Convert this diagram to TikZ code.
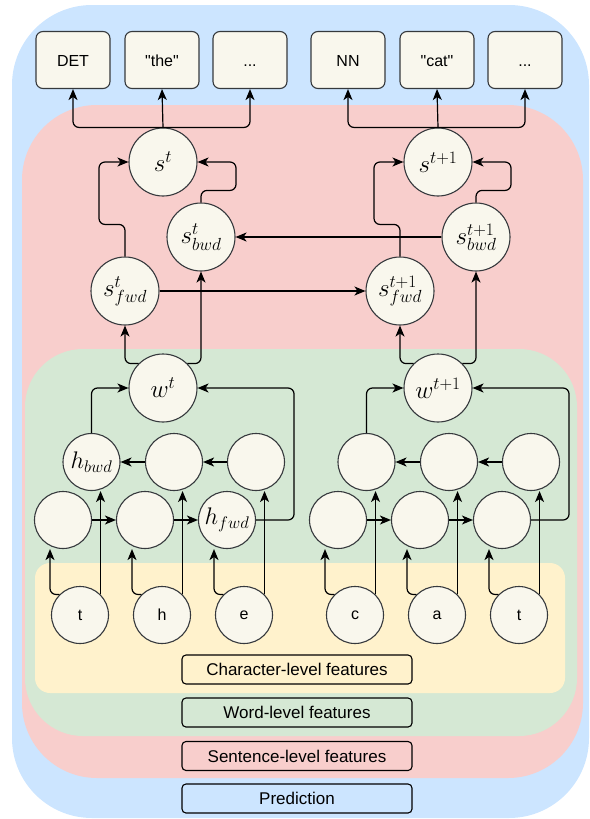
\RequirePackage{fix-cm}
\documentclass[tikz,border=0pt]{standalone}
\usepackage[no-math]{fontspec}
\setmainfont{Liberation Sans}[Ligatures = TeXOff]
\usetikzlibrary{calc,arrows.meta}

\definecolor{predblue}{HTML}{CCE5FF}
\definecolor{sentred}{HTML}{F8CECC}
\definecolor{wordgreen}{HTML}{D5E8D4}
\definecolor{charyellow}{HTML}{FFF2CC}
\definecolor{cellfill}{HTML}{F9F7ED}
\definecolor{cellline}{HTML}{36393D}

\tikzset{
  cell/.style = {circle, draw = cellline, fill = cellfill, line width = 1.1pt,
    minimum size = 57pt, inner sep = 0pt, font = \fontsize{16}{19}\selectfont},
  hcell/.style = {cell, font = \fontsize{24}{27}\selectfont},
  bigcell/.style = {cell, minimum size = 68pt, font = \fontsize{25}{28}\selectfont},
  outbox/.style = {draw = cellline, fill = cellfill, rounded corners = 7pt, line width = 1.1pt,
    minimum width = 74pt, minimum height = 57pt, text height = 13pt, text depth = 0pt,
    font = \fontsize{16}{19}\selectfont},
  levelbox/.style = {draw = black, rounded corners = 4pt, line width = 1.1pt,
    minimum width = 230pt, minimum height = 29pt, font = \fontsize{17}{20}\selectfont},
  link/.style = {-{Stealth[length = 11pt, width = 9pt, inset = 3pt]}, line width = 1.2pt,
    rounded corners = 6pt},
}

\begin{document}
\begin{tikzpicture}[x = 1pt, y = -1pt]
  \useasboundingbox (0,0) rectangle (589,819);

  \fill [predblue, rounded corners = 80pt] (12,5) rectangle (589,818);
  \fill [sentred, rounded corners = 75pt] (22,105) rectangle (583,778);
  \fill [wordgreen, rounded corners = 58pt] (25,349) rectangle (577,736);
  \fill [charyellow, rounded corners = 15pt] (35,563) rectangle (565,693);

  \node [levelbox, fill = charyellow] (charlevel) at (297,669.5) {Character-level features};
  \node [levelbox, fill = wordgreen] (wordlevel) at (297,712.5) {Word-level features};
  \node [levelbox, fill = sentred] (sentlevel) at (297,756) {Sentence-level features};
  \node [levelbox, fill = predblue] (predlevel) at (297,798.5) {Prediction};

  \foreach \n/\dx/\tsup/\ca/\cb/\cc/\hb/\hf/\oa/\ob in
    {a/0/t/t/h/e/$h_{bwd}$/$h_{fwd}$/DET/"the",
     b/275/t+1/c/a/t/{}/{}/NN/"cat"} {

    \node [cell] (ch1_\n) at ({\dx+80},615) {\ca};
    \node [cell] (ch2_\n) at ({\dx+162},615) {\cb};
    \node [cell] (ch3_\n) at ({\dx+244},615) {\cc};

    \node [cell] (f1_\n) at ({\dx+63},520) {};
    \node [cell] (f2_\n) at ({\dx+145},520) {};
    \node [hcell] (f3_\n) at ({\dx+227},520) {\hf};

    \node [hcell] (b1_\n) at ({\dx+91.5},462) {\hb};
    \node [cell] (b2_\n) at ({\dx+174},462) {};
    \node [cell] (b3_\n) at ({\dx+256},462) {};

    \node [bigcell] (w_\n) at ({\dx+163},388) {$w^{\tsup}$};
    \node [bigcell] (sfwd_\n) at ({\dx+125},291) {$s^{\tsup}_{fwd}$};
    \node [bigcell] (sbwd_\n) at ({\dx+201},237) {$s^{\tsup}_{bwd}$};
    \node [bigcell] (s_\n) at ({\dx+163},162) {$s^{\tsup}$};

    \node [outbox] (out1_\n) at ({\dx+73},60) {\oa};
    \node [outbox] (out2_\n) at ({\dx+162},60) {\ob};
    \node [outbox] (out3_\n) at ({\dx+250},60) {...};

    \foreach \i in {1,2,3} {
      \draw [link] (ch\i_\n.135) -| ($(f\i_\n.south)+(-13,0)$);
      \draw [link] (ch\i_\n.45) -- (ch\i_\n.45 |- b\i_\n.south);
    }
    \draw [link] (f1_\n) -- (f2_\n);
    \draw [link] (f2_\n) -- (f3_\n);
    \draw [link] (b3_\n) -- (b2_\n);
    \draw [link] (b2_\n) -- (b1_\n);
    \draw [link] (b1_\n.north) |- (w_\n.west);
    \draw [link] (f3_\n.east) -- ++(38,0) |- (w_\n.east);

    \draw [link] (w_\n.135) -| (sfwd_\n.south);
    \draw [link] (w_\n.45) -| (sbwd_\n.south);
    \draw [link] (sfwd_\n.north) |- ++(-26,-32) |- (s_\n.west);
    \draw [link] (sbwd_\n.north) |- ++(35,-12) |- (s_\n.east);

    \draw [link] (s_\n.north) -| (out1_\n.south);
    \draw [link] (s_\n.north) -- (out2_\n.south);
    \draw [link] (s_\n.north) -| (out3_\n.south);
  }

  \draw [link] (sfwd_a) -- (sfwd_b);
  \draw [link] (sbwd_b) -- (sbwd_a);

\end{tikzpicture}
\end{document}
